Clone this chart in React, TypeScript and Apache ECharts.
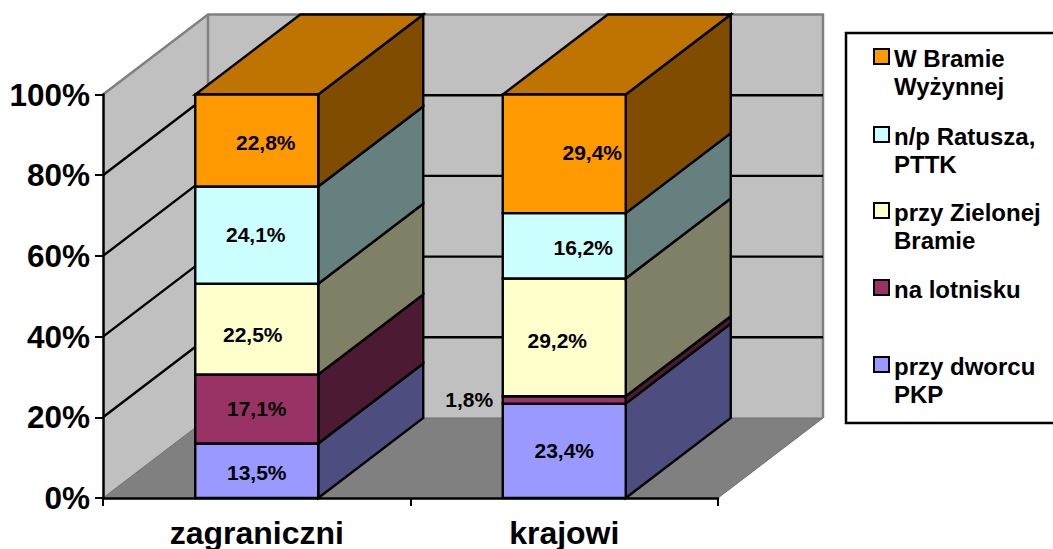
import React, { useEffect, useRef } from "react";
import * as echarts from "echarts";

const categories = ["zagraniczni", "krajowi"];
const seriesNames = ["przy dworcu PKP", "na lotnisku", "przy Zielonej Bramie", "n/p Ratusza, PTTK", "W Bramie Wyżynnej"];
const dworzecPKP = [13.5, 23.4];
const lotnisko = [17.1, 1.8];
const zielonaBrama = [22.5, 29.2];
const ratusz = [24.1, 16.2];
const bramaWyzynna = [22.8, 29.4];
const seriesValues = [dworzecPKP, lotnisko, zielonaBrama, ratusz, bramaWyzynna];
const yTicks = [20, 40, 60, 80];

const frontColors = ["#9999FF", "#993366", "#FFFFCC", "#CCFFFF", "#FF9900"];
const sideColors = ["#4D4D80", "#4D1A33", "#808066", "#668080", "#804D00"];
const topColor = "#BF7300";

const labelNudge = [
  [[0, 2], [0, 0]],
  [[0, -1], [-95, 0]],
  [[-4, 5], [-7, 3]],
  [[-1, -1], [19, 2]],
  [[9, 2], [28, -1]],
];

const legendEntries = [
  { text: "W Bramie\nWyżynnej", color: frontColors[4], swatchY: 49 },
  { text: "n/p Ratusza,\nPTTK", color: frontColors[3], swatchY: 127 },
  { text: "przy Zielonej\nBramie", color: frontColors[2], swatchY: 203 },
  { text: "na lotnisku", color: frontColors[1], swatchY: 280 },
  { text: "przy dworcu\nPKP", color: frontColors[0], swatchY: 357 },
];

const DX = 105;
const DY = -80;
const FONT = '"Liberation Sans", Arial, sans-serif';
const WALL = "#C0C0C0";
const FLOOR = "#808080";
const EDGE = "#808080";

function poly(points: number[][], fill: string | null, stroke: string | null, lineWidth = 2.4) {
  return {
    type: "polygon",
    shape: { points },
    style: { fill: fill ?? "none", stroke: stroke ?? "none", lineWidth, lineJoin: "miter" },
  };
}

function wallsItem(params: any) {
  const c = params.coordSys;
  const l = c.x, r = c.x + c.width, t = c.y, b = c.y + c.height;
  return {
    type: "group",
    children: [
      poly([[l + DX, t + DY], [r + DX, t + DY], [r + DX, b + DY], [l + DX, b + DY]], WALL, null),
      poly([[l, t], [l + DX, t + DY], [l + DX, b + DY], [l, b]], WALL, null),
      poly([[l, b], [r, b], [r + DX, b + DY], [l + DX, b + DY]], FLOOR, null),
      { type: "polyline", shape: { points: [[l, t], [l + DX, t + DY], [r + DX, t + DY], [r + DX, b + DY]] }, style: { fill: "none", stroke: EDGE, lineWidth: 2.5 } },
      { type: "line", shape: { x1: l + DX, y1: t + DY, x2: l + DX, y2: b + DY }, style: { stroke: EDGE, lineWidth: 2.5 } },
      { type: "polyline", shape: { points: [[l, b], [l + DX, b + DY], [r + DX, b + DY], [r, b]] }, style: { fill: "none", stroke: "#6E6E6E", lineWidth: 1 } },
    ],
  };
}

function gridItem(params: any, api: any) {
  const c = params.coordSys;
  const y = api.coord([0, api.value(0)])[1];
  const l = c.x, r = c.x + c.width;
  return {
    type: "polyline",
    shape: { points: [[l, y], [l + DX, y + DY], [r + DX, y + DY]] },
    style: { fill: "none", stroke: "#000", lineWidth: 2.4 },
  };
}

function segmentRenderer(seriesIndex: number, isTop: boolean) {
  return (params: any, api: any) => {
    const cat = api.value(0);
    const start = api.coord([cat, api.value(1)]);
    const end = api.coord([cat, api.value(2)]);
    const w = api.size([1, 0])[0] * 0.4;
    const x0 = start[0] - w / 2;
    const x1 = start[0] + w / 2;
    const yb = start[1];
    const yt = end[1];
    const nudge = labelNudge[seriesIndex][cat];
    const children: any[] = [
      poly([[x1, yb], [x1 + DX, yb + DY], [x1 + DX, yt + DY], [x1, yt]], sideColors[seriesIndex], "#000"),
    ];
    if (isTop) {
      children.push(poly([[x0, yt], [x1, yt], [x1 + DX, yt + DY], [x0 + DX, yt + DY]], topColor, "#000"));
    }
    children.push(poly([[x0, yb], [x1, yb], [x1, yt], [x0, yt]], frontColors[seriesIndex], "#000"));
    children.push({
      type: "text",
      z2: 10,
      style: {
        x: start[0] + nudge[0],
        y: (yb + yt) / 2 + nudge[1],
        text: api.value(3).toFixed(1).replace(".", ",") + "%",
        align: "center",
        verticalAlign: "middle",
        fill: "#000",
        font: `bold 21px ${FONT}`,
      },
    });
    return { type: "group", children };
  };
}

function buildBarSeries() {
  const totals = categories.map(() => 0);
  return seriesValues.map((vals, si) => {
    const data = vals.map((v, ci) => {
      const s = totals[ci];
      totals[ci] = s + v;
      return [ci, s, Math.min(100, s + v), v];
    });
    return {
      type: "custom",
      name: seriesNames[si],
      z: 3 + si * 0.01,
      renderItem: segmentRenderer(si, si === seriesValues.length - 1),
      encode: { x: 0, y: [1, 2] },
      data,
      clip: false,
    };
  });
}

function buildLegendGraphic() {
  const items: any[] = [
    {
      type: "rect",
      shape: { x: 846, y: 33, width: 215, height: 390 },
      style: { fill: "#fff", stroke: "#000", lineWidth: 2.5 },
    },
  ];
  legendEntries.forEach((e) => {
    items.push({
      type: "rect",
      shape: { x: 874, y: e.swatchY, width: 15, height: 15 },
      style: { fill: e.color, stroke: "#000", lineWidth: 2 },
    });
    items.push({
      type: "text",
      style: {
        x: 894,
        y: e.swatchY - 5,
        text: e.text,
        font: `bold 24px ${FONT}`,
        lineHeight: 28,
        fill: "#000",
        verticalAlign: "top",
      },
    });
  });
  return items;
}

export default function App() {
  const ref = useRef<HTMLDivElement>(null);
  useEffect(() => {
    const chart = echarts.init(ref.current!, undefined, { renderer: "svg" });
    chart.setOption({
      animation: false,
      backgroundColor: "#fff",
      grid: { left: 103, top: 94.5, width: 615, height: 405.5, containLabel: false },
      xAxis: {
        type: "category",
        data: categories,
        z: 6,
        axisLine: { lineStyle: { color: "#000", width: 2.5 } },
        axisTick: { show: true, length: 8, lineStyle: { color: "#000", width: 2 } },
        axisLabel: { color: "#000", fontFamily: FONT, fontWeight: "bold", fontSize: 32, margin: 19 },
        splitLine: { show: false },
      },
      yAxis: {
        type: "value",
        min: 0,
        max: 100,
        interval: 20,
        z: 6,
        axisLine: { show: true, lineStyle: { color: "#000", width: 2.5 } },
        axisTick: { show: true, length: 8, lineStyle: { color: "#000", width: 2 } },
        axisLabel: { color: "#000", fontFamily: FONT, fontWeight: "bold", fontSize: 31.5, margin: 13, formatter: "{value}%" },
        splitLine: { show: false },
      },
      graphic: buildLegendGraphic(),
      series: [
        { type: "custom", name: "walls", z: 1, silent: true, renderItem: wallsItem, data: [[0]], encode: { y: 0 }, clip: false },
        { type: "custom", name: "grid", z: 2, silent: true, renderItem: gridItem, data: yTicks.map((t) => [t]), encode: { y: 0 }, clip: false },
        ...buildBarSeries(),
      ],
    });
    return () => chart.dispose();
  }, []);
  return <div ref={ref} style={{ position: "fixed", left: 0, top: 0, width: 1053, height: 549 }} />;
}
